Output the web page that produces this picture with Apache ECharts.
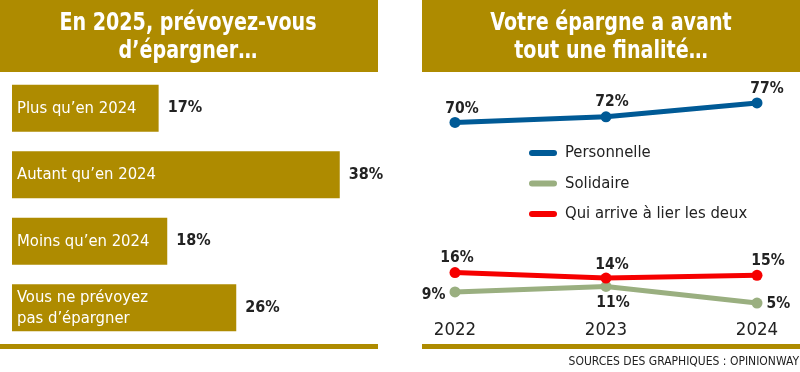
<!DOCTYPE html>
<html><head><meta charset="utf-8">
<script src="https://cdn.jsdelivr.net/npm/echarts@6/dist/echarts.min.js"></script>
<style>html,body{margin:0;padding:0;background:#fff}#c{width:800px;height:372px}</style>
</head><body><div id="c"></div>
<script>
const barCategories = ["Plus qu\u2019en 2024", "Autant qu\u2019en 2024", "Moins qu\u2019en 2024", "Vous ne pr\u00e9voyez\npas d\u2019\u00e9pargner"];
const barValues = [17, 38, 18, 26];
const years = ["2022", "2023", "2024"];
const personnelle = [70, 72, 77];
const solidaire = [9, 11, 5];
const lierDeux = [16, 14, 15];
const seriesNames = ["Personnelle", "Solidaire", "Qui arrive \u00e0 lier les deux"];

const FONT = '"Liberation Sans Narrow", "DejaVu Sans Condensed", "Noto Sans", sans-serif';
const GOLD = '#AE8B00';
const BLUE = '#005A96';
const GREEN = '#9AAF80';
const RED = '#F60000';

const chart = echarts.init(document.getElementById('c'));

function lbl(pos, offset, dist) {
  return { show: true, position: pos, offset: offset || [0, 0], distance: dist, formatter: '{c}%',
    fontFamily: FONT, fontWeight: 'bold', fontSize: 15.5, color: '#222' };
}
const persLabels = [lbl('top', [7, 0], 0), lbl('top', [6, 0], 1), lbl('top', [10, 0], 0)];
const solLabels = [lbl('left', [-1, 3], 3), lbl('bottom', [7, 0], 3), lbl('right', [1, 1], 3)];
const redLabels = [lbl('top', [2, 0], 1), lbl('top', [6, 0], 0), lbl('top', [11, 0], 1)];
function withLabels(vals, labels) { return vals.map((v, i) => ({ value: v, label: labels[i] })); }

const capsule = 'path://M3,0 L25,0 A3,3 0 0 1 25,6 L3,6 A3,3 0 0 1 3,0 Z';

chart.setOption({
  animation: false,
  textStyle: { fontFamily: FONT },
  graphic: [
    { type: 'rect', shape: { x: 0, y: 0, width: 378, height: 72 }, style: { fill: GOLD } },
    { type: 'rect', shape: { x: 422, y: 0, width: 378, height: 72 }, style: { fill: GOLD } },
    { type: 'rect', shape: { x: 0, y: 344, width: 378, height: 5 }, style: { fill: GOLD } },
    { type: 'rect', shape: { x: 422, y: 344, width: 378, height: 5 }, style: { fill: GOLD } },
    { type: 'text', x: 188, y: 37, scaleX: 0.85, style: { text: 'En 2025, pr\u00e9voyez-vous\nd\u2019\u00e9pargner\u2026', fill: '#fff',
      font: 'bold 25px ' + FONT, textAlign: 'center', textVerticalAlign: 'middle', lineHeight: 28 } },
    { type: 'text', x: 611, y: 37, scaleX: 0.85, style: { text: 'Votre \u00e9pargne a avant\ntout une finalit\u00e9\u2026', fill: '#fff',
      font: 'bold 25px ' + FONT, textAlign: 'center', textVerticalAlign: 'middle', lineHeight: 28 } },
    { type: 'text', x: 799, y: 362, style: { text: 'SOURCES DES GRAPHIQUES : OPINIONWAY', fill: '#222',
      font: '12px ' + FONT, textAlign: 'right', textVerticalAlign: 'middle' } }
  ],
  legend: {
    orient: 'vertical', left: 524, top: 138, itemWidth: 28, itemHeight: 6, itemGap: 10.5,
    textStyle: { fontFamily: FONT, fontSize: 16.5, color: '#222', lineHeight: 20, padding: [0, 0, 0, 3] },
    data: seriesNames.map(n => ({ name: n, icon: capsule }))
  },
  grid: [
    { left: 12, top: 75, width: 345, height: 266 },
    { left: 455, right: 43, top: 94.6, bottom: 55 }
  ],
  xAxis: [
    { gridIndex: 0, type: 'value', min: 0, max: 40, show: false },
    { gridIndex: 1, type: 'category', data: years, boundaryGap: false,
      axisLine: { show: false }, axisTick: { show: false }, splitLine: { show: false },
      axisLabel: { margin: 4, fontFamily: FONT, fontSize: 18.5, color: '#222' } }
  ],
  yAxis: [
    { gridIndex: 0, type: 'category', data: barCategories, inverse: true, show: false },
    { gridIndex: 1, type: 'value', min: 0, max: 80, show: false }
  ],
  series: [
    { type: 'bar', xAxisIndex: 0, yAxisIndex: 0, data: barValues, barWidth: 47, itemStyle: { color: GOLD },
      label: { show: true, position: 'insideLeft', distance: 5, formatter: p => barCategories[p.dataIndex],
        fontFamily: FONT, fontSize: 16.5, color: '#fff', lineHeight: 21 } },
    { type: 'bar', xAxisIndex: 0, yAxisIndex: 0, data: barValues, barWidth: 47, barGap: '-100%',
      itemStyle: { color: 'rgba(0,0,0,0)' }, silent: true,
      label: { show: true, position: 'right', distance: 9, formatter: '{c}%',
        fontFamily: FONT, fontWeight: 'bold', fontSize: 16, color: '#222' } },
    { name: seriesNames[0], type: 'line', xAxisIndex: 1, yAxisIndex: 1, data: withLabels(personnelle, persLabels),
      symbol: 'circle', symbolSize: 11, lineStyle: { width: 5, color: BLUE }, itemStyle: { color: BLUE } },
    { name: seriesNames[1], type: 'line', xAxisIndex: 1, yAxisIndex: 1, data: withLabels(solidaire, solLabels),
      symbol: 'circle', symbolSize: 11, lineStyle: { width: 5, color: GREEN }, itemStyle: { color: GREEN } },
    { name: seriesNames[2], type: 'line', xAxisIndex: 1, yAxisIndex: 1, data: withLabels(lierDeux, redLabels),
      symbol: 'circle', symbolSize: 11, lineStyle: { width: 5, color: RED }, itemStyle: { color: RED } }
  ]
});
</script></body></html>
